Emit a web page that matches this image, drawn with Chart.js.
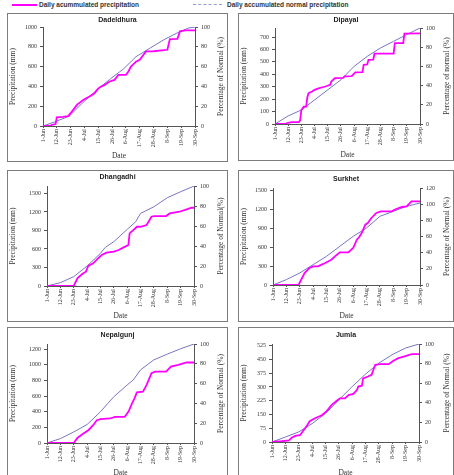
<!DOCTYPE html>
<html>
<head>
<meta charset="utf-8">
<script src="https://cdn.jsdelivr.net/npm/chart.js@4.4.1/dist/chart.umd.min.js"></script>
<style>
  body { margin: 0; width: 454px; height: 475px; background: #fff; position: relative; overflow: hidden; }
  .frame { position: absolute; border: 1.5px solid #7d7d7d; box-sizing: border-box; pointer-events: none; }
  canvas { position: absolute; }
  .key { position: absolute; font: bold 6.5px "Liberation Sans", Arial, sans-serif; line-height: 8px; color: #333; white-space: nowrap; }
  .swatch { position: absolute; }
</style>
</head>
<body>
<div class="swatch" style="left:12px;top:3.5px;width:25px;height:2px;background:#ff00ff"></div>
<div class="key" style="left:39px;top:0.5px">Daily acummulated precipitation</div>
<div class="swatch" style="left:193px;top:4px;width:29px;border-top:1px dashed #8da0dc"></div>
<div class="key" style="left:227px;top:0.5px">Daily accumulated normal precipitation</div>
<script>
// x values are days counted from 1 June
const dateTicks = [0, 11, 22, 33, 44, 55, 66, 77, 88, 99, 110, 121];
const dateLabels = ['1-Jun', '12-Jun', '23-Jun', '4-Jul', '15-Jul', '26-Jul', '6-Aug', '17-Aug', '28-Aug', '8-Sep', '19-Sep', '30-Sep'];

const stations = ['Dadeldhura', 'Dipayal', 'Dhangadhi', 'Surkhet', 'Nepalgunj', 'Jumla'];
// left axis top (= 100 % of normal, or 120 % for Surkhet)
const axisMax = [1000, 773, 1620, 1537, 1264, 534];
const percentTicks = [0, 20, 40, 60, 80, 100];
const percentTicksSurkhet = [0, 20, 40, 60, 80, 100, 120];

// [day, mm]
const dadeldhuraActual = [[0,0],[5,0],[8,15],[10,20],[11,88],[16,92],[20,100],[23,145],[27,213],[32,263],[37,297],[41,330],[43,365],[45,390],[49,415],[53,450],[57,466],[60,517],[66,517],[68,551],[70,600],[74,650],[77,669],[82,753],[88,755],[99,770],[101,878],[107,880],[109,956],[113,966],[121,966]];
const dadeldhuraNormal = [[0,0],[9,40],[21,100],[32,240],[43,365],[53,470],[64,575],[74,700],[85,785],[96,870],[106,935],[116,990],[121,1000]];
const dadeldhuraTicks = [0, 200, 400, 600, 800, 1000];

const dipayalActual = [[0,0],[8,0],[11,10],[14,15],[20,15],[21,30],[22,113],[24,140],[26,140],[27,215],[28,248],[31,261],[33,275],[37,288],[42,302],[46,315],[47,342],[50,370],[57,372],[58,383],[64,385],[67,415],[73,417],[74,477],[77,479],[78,517],[82,519],[83,566],[99,566],[100,652],[107,652],[108,728],[121,730]];
const dipayalNormal = [[0,0],[11,65],[22,113],[33,194],[44,275],[55,356],[66,464],[77,545],[88,612],[99,666],[110,720],[121,773]];
const dipayalTicks = [0, 100, 200, 300, 400, 500, 600, 700];

const dhangadhiActual = [[0,0],[22,0],[25,124],[29,194],[32,232],[34,324],[38,367],[42,448],[45,502],[49,540],[55,556],[59,583],[63,626],[67,664],[68,853],[71,906],[74,960],[77,960],[82,988],[86,1122],[88,1133],[98,1133],[101,1176],[109,1203],[115,1241],[119,1268],[121,1268]];
const dhangadhiNormal = [[0,0],[11,54],[22,151],[33,324],[44,529],[48,626],[55,718],[66,917],[73,1041],[77,1176],[88,1284],[99,1430],[110,1527],[121,1619]];
const dhangadhiTicks = [0, 300, 600, 900, 1200, 1500];

const surkhetActual = [[0,0],[21,0],[26,190],[30,270],[33,296],[37,296],[40,322],[43,349],[48,401],[51,454],[55,518],[62,518],[66,586],[69,718],[71,760],[73,824],[76,956],[78,982],[81,1062],[85,1141],[89,1167],[98,1167],[100,1193],[106,1236],[110,1246],[114,1326],[121,1326]];
const surkhetNormal = [[0,0],[11,85],[22,190],[33,322],[44,454],[55,613],[66,771],[77,903],[88,1088],[99,1167],[110,1246],[121,1299]];
const surkhetTicks = [0, 300, 600, 900, 1200, 1500];

const nepalgunjActual = [[0,0],[22,0],[25,64],[30,120],[34,163],[38,227],[41,291],[44,304],[52,313],[56,334],[64,334],[67,398],[70,505],[72,570],[74,647],[79,655],[82,741],[86,891],[89,912],[98,912],[102,976],[108,998],[115,1028],[121,1028]];
const nepalgunjNormal = [[0,0],[11,56],[22,141],[33,236],[44,398],[50,505],[55,591],[66,741],[71,805],[77,934],[88,1062],[99,1135],[110,1203],[121,1264]];
const nepalgunjTicks = [0, 200, 400, 600, 800, 1000, 1200];

const jumlaActual = [[0,0],[8,4],[14,9],[16,22],[19,33],[23,37],[26,64],[29,91],[31,113],[35,128],[41,146],[45,168],[49,201],[53,223],[56,238],[60,238],[63,256],[67,262],[70,284],[71,302],[74,307],[75,347],[79,357],[82,366],[85,421],[89,424],[96,424],[100,443],[104,457],[109,466],[115,479],[121,479]];
const jumlaNormal = [[0,0],[11,27],[22,55],[33,100],[44,155],[55,229],[66,302],[77,370],[88,430],[99,476],[110,512],[121,534]];
const jumlaTicks = [0, 75, 150, 225, 300, 375, 450, 525];

// page layout: frame box [x, y, w, h], plot area [left, top, right, bottom], title top padding
const panels = [
  { actual: dadeldhuraActual, normal: dadeldhuraNormal, ticks: dadeldhuraTicks, pct: percentTicks, pctText: 'Percentage of Normal (%)', box: [7, 13, 221, 149], plot: [43, 27, 195, 126], titleTop: 2 },
  { actual: dipayalActual, normal: dipayalNormal, ticks: dipayalTicks, pct: percentTicks, pctText: 'Percentage of normal (%)', box: [238, 13, 216, 148], plot: [275, 28, 420, 124], titleTop: 2 },
  { actual: dhangadhiActual, normal: dhangadhiNormal, ticks: dhangadhiTicks, pct: percentTicks, pctText: 'Percentage of Normal(%)', box: [7, 170, 221, 152], plot: [47, 186, 194, 286], titleTop: 2 },
  { actual: surkhetActual, normal: surkhetNormal, ticks: surkhetTicks, pct: percentTicksSurkhet, pctText: 'Percentage of Normal (%)', box: [238, 170, 216, 152], plot: [273, 188, 420, 285], titleTop: 4 },
  { actual: nepalgunjActual, normal: nepalgunjNormal, ticks: nepalgunjTicks, pct: percentTicks, pctText: 'Percentage of Normal (%)', box: [7, 327, 221, 152], plot: [47, 344, 194, 443], titleTop: 3 },
  { actual: jumlaActual, normal: jumlaNormal, ticks: jumlaTicks, pct: percentTicks, pctText: 'Percentage of Normal (%)', box: [238, 327, 216, 152], plot: [272, 344, 419, 442], titleTop: 3 }
];

const serif = '"Liberation Serif", "Times New Roman", serif';
const axisColor = '#555';
const textColor = '#333';

// right axis title reads bottom-to-top like the left one
const rightTitle = {
  id: 'rightTitle',
  afterDraw(chart, args, opts) {
    const { ctx, chartArea } = chart;
    ctx.save();
    ctx.translate(chart.width - opts.offset, (chartArea.top + chartArea.bottom) / 2);
    ctx.rotate(-Math.PI / 2);
    ctx.font = '7.5px ' + serif;
    ctx.fillStyle = textColor;
    ctx.textAlign = 'center';
    ctx.textBaseline = 'middle';
    ctx.fillText(opts.text, 0, 0);
    ctx.restore();
  }
};

function toPoints(pairs) {
  return pairs.map(([x, y]) => ({ x, y }));
}

function makePanel(p, i) {
  const [bx, by, bw, bh] = p.box;
  const cx = bx + 1, cy = by + 1, cw = bw - 2, ch = bh - 2;
  const [L, T, R, B] = p.plot;

  const canvas = document.createElement('canvas');
  canvas.width = cw;
  canvas.height = ch;
  canvas.style.left = cx + 'px';
  canvas.style.top = cy + 'px';
  document.body.appendChild(canvas);

  const frame = document.createElement('div');
  frame.className = 'frame';
  frame.style.cssText = `left:${bx}px;top:${by}px;width:${bw}px;height:${bh}px`;
  document.body.appendChild(frame);

  const tickFont = { family: serif, size: 6 };
  const gridOpts = { drawOnChartArea: false, color: axisColor, tickLength: 3 };
  const borderOpts = { color: axisColor, width: 1 };

  new Chart(canvas, {
    type: 'line',
    data: {
      datasets: [
        { data: toPoints(p.actual), borderColor: '#ff00ff', borderWidth: 1.8, pointRadius: 0, yAxisID: 'y' },
        { data: toPoints(p.normal), borderColor: '#7676c4', borderWidth: 1, pointRadius: 0, yAxisID: 'y' }
      ]
    },
    options: {
      responsive: false,
      animation: false,
      devicePixelRatio: 1,
      layout: { padding: 0 },
      plugins: {
        legend: { display: false },
        tooltip: { enabled: false },
        title: {
          display: true,
          text: stations[i],
          color: '#222',
          font: { family: '"Liberation Sans", Arial, sans-serif', size: 7, weight: 'bold' },
          padding: { top: p.titleTop, bottom: (T - cy) - p.titleTop - 8.4 }
        },
        rightTitle: { text: p.pctText, offset: 6 }
      },
      scales: {
        x: {
          type: 'linear',
          min: 0,
          max: 121,
          afterBuildTicks: s => { s.ticks = dateTicks.map(v => ({ value: v })); },
          afterFit: s => { s.height = cy + ch - B; },
          ticks: {
            callback: (v, idx) => dateLabels[idx],
            autoSkip: false,
            minRotation: 90,
            maxRotation: 90,
            padding: 1,
            font: tickFont,
            color: textColor
          },
          grid: { ...gridOpts, tickLength: 2 },
          border: borderOpts,
          title: { display: true, text: 'Date', color: textColor, font: { family: serif, size: 7.5 }, padding: 0 }
        },
        y: {
          position: 'left',
          min: 0,
          max: axisMax[i],
          afterBuildTicks: s => { s.ticks = p.ticks.map(v => ({ value: v })); },
          afterFit: s => { s.width = L - cx; },
          ticks: { font: tickFont, color: textColor, padding: 3, callback: v => String(v) },
          grid: gridOpts,
          border: borderOpts,
          title: { display: true, text: 'Precipitation (mm)', color: textColor, font: { family: serif, size: 7.5 }, padding: { top: 1, bottom: 0 } }
        },
        y1: {
          position: 'right',
          min: 0,
          max: p.pct[p.pct.length - 1],
          afterBuildTicks: s => { s.ticks = p.pct.map(v => ({ value: v })); },
          afterFit: s => { s.width = cx + cw - R; },
          ticks: { font: tickFont, color: textColor, padding: 3, callback: v => String(v) },
          grid: gridOpts,
          border: borderOpts
        }
      }
    },
    plugins: [rightTitle]
  });
}

panels.forEach(makePanel);
</script>
</body>
</html>
